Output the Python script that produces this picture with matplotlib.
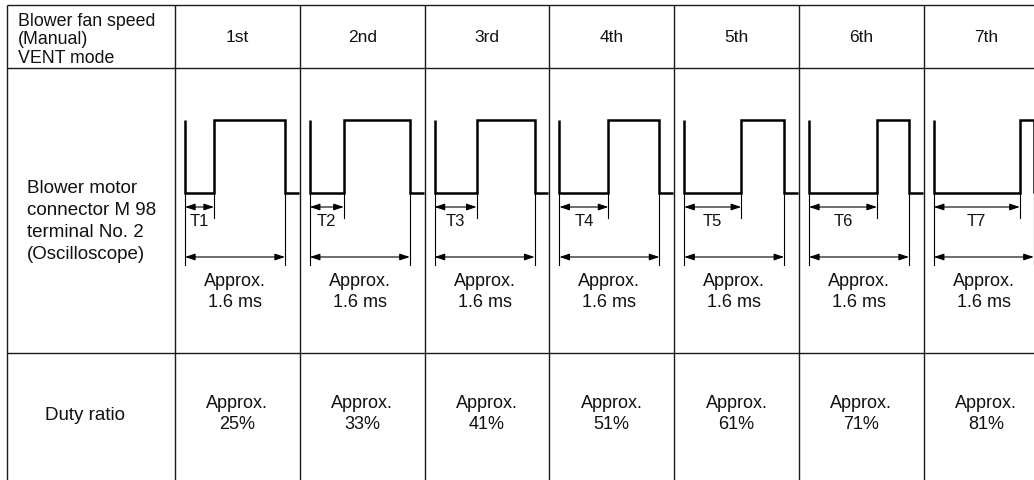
import matplotlib
matplotlib.use("Agg")
import matplotlib.pyplot as plt
from matplotlib.patches import FancyArrowPatch

plt.rcParams['font.family'] = ['Liberation Sans', 'DejaVu Sans']

# ---- data ----
speeds = ["1st", "2nd", "3rd", "4th", "5th", "6th", "7th"]
t_labels = ["T1", "T2", "T3", "T4", "T5", "T6", "T7"]
t_fraction = [0.29, 0.34, 0.42, 0.49, 0.57, 0.68, 0.86]   # low time / period
duty_ratio = [25, 33, 41, 51, 61, 71, 81]                  # %
period_text = "Approx.\n1.6 ms"
header_text = "Blower fan speed\n(Manual)\nVENT mode"
probe_text = "Blower motor\nconnector M 98\nterminal No. 2\n(Oscilloscope)"
duty_title = "Duty ratio"

# ---- layout (pixel space) ----
W, H = 1034, 480
left_x, first_col_x, col_w = 7, 175, 124.8
top_y, head_y, row_y = 5, 68, 353
wave_off, period_px = 10, 100
y_hi, y_lo = 120, 193
y_tarrow, y_text, y_parrow, y_pext = 207, 222, 257, 265

fig = plt.figure(figsize=(W / 100, H / 100), dpi=100)
ax = fig.add_axes([0, 0, 1, 1])
ax.set_xlim(0, W)
ax.set_ylim(H, 0)
ax.axis('off')

tab_kw = dict(color='#1a1a1a', lw=1.0, solid_capstyle='butt')
# table grid
ax.plot([left_x, left_x], [top_y, H], **tab_kw)
for y in (top_y, head_y, row_y):
    ax.plot([left_x, W], [y, y], **tab_kw)
for i in range(len(speeds)):
    x = first_col_x + i * col_w
    ax.plot([x, x], [top_y, H], **tab_kw)

txt = dict(color='#111111')
ax.text(18, 40, header_text, fontsize=12.8, ha='left', va='center',
        linespacing=1.1, **txt)
ax.text(27, 221.5, probe_text, fontsize=13.5, ha='left', va='center', linespacing=1.36, **txt)
ax.text(85, 416, duty_title, fontsize=13.5, ha='center', va='center', **txt)

thick = dict(color='black', lw=1.8, solid_joinstyle='miter', solid_capstyle='butt')
thin = dict(color='black', lw=0.8)

def arrow(x1, x2, y):
    ax.add_patch(FancyArrowPatch((x1, y), (x2, y),
                                 arrowstyle='<|-|>,head_length=0.6,head_width=0.2',
                                 mutation_scale=10, lw=0.8, color='black',
                                 shrinkA=0, shrinkB=0))

for i, (sp, tl, tf, dr) in enumerate(zip(speeds, t_labels, t_fraction, duty_ratio)):
    cx0 = first_col_x + i * col_w
    cx1 = cx0 + col_w
    ccx = cx0 + col_w / 2
    ax.text(ccx, 37, sp, fontsize=12.5, ha='center', va='center', **txt)

    x0 = cx0 + wave_off
    xr = x0 + tf * period_px
    xf = x0 + period_px
    xend = min(cx1 - 1, W)
    ax.plot([x0, x0, xr, xr, xf, xf, xend], [y_hi, y_lo, y_lo, y_hi, y_hi, y_lo, y_lo], **thick)
    # extension lines
    ax.plot([x0, x0], [y_lo, y_pext], **thin)
    ax.plot([xr, xr], [y_lo, y_text - 4], **thin)
    ax.plot([xf, xf], [y_lo, y_pext], **thin)
    arrow(x0, xr, y_tarrow)
    arrow(x0, xf, y_parrow)
    ax.text((x0 + xr) / 2, y_text, tl, fontsize=12, ha='center', va='center', **txt)
    ax.text((x0 + xf) / 2, 292, period_text, fontsize=13, ha='center', va='center',
            linespacing=1.36, **txt)
    ax.text(ccx, 414, f"Approx.\n{dr}%", fontsize=13, ha='center', va='center',
            linespacing=1.36, **txt)

fig.savefig("out.png", dpi=100)
